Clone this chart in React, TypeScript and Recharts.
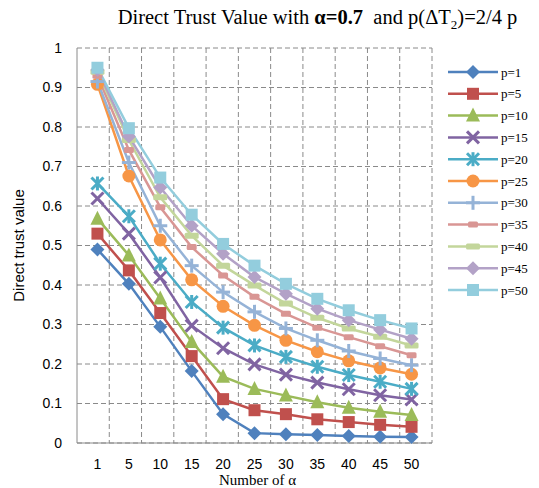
import React from "react";
import {
  LineChart,
  Line,
  XAxis,
  YAxis,
  CartesianGrid,
  Legend,
} from "recharts";

const categories = ["1", "5", "10", "15", "20", "25", "30", "35", "40", "45", "50"];
const yTicks = [0, 0.1, 0.2, 0.3, 0.4, 0.5, 0.6, 0.7, 0.8, 0.9, 1];

const p1 = [0.49, 0.403, 0.294, 0.182, 0.073, 0.025, 0.022, 0.02, 0.018, 0.016, 0.015];
const p5 = [0.53, 0.437, 0.329, 0.22, 0.111, 0.083, 0.073, 0.06, 0.053, 0.046, 0.041];
const p10 = [0.568, 0.475, 0.366, 0.256, 0.168, 0.137, 0.12, 0.103, 0.089, 0.079, 0.071];
const p15 = [0.619, 0.53, 0.419, 0.297, 0.24, 0.199, 0.173, 0.153, 0.136, 0.121, 0.11];
const p20 = [0.657, 0.574, 0.454, 0.357, 0.292, 0.247, 0.218, 0.193, 0.172, 0.155, 0.137];
const p25 = [0.908, 0.676, 0.514, 0.413, 0.346, 0.298, 0.26, 0.231, 0.208, 0.19, 0.174];
const p30 = [0.915, 0.71, 0.55, 0.449, 0.382, 0.332, 0.29, 0.26, 0.233, 0.214, 0.197];
const p35 = [0.93, 0.742, 0.597, 0.496, 0.424, 0.37, 0.327, 0.292, 0.268, 0.245, 0.222];
const p40 = [0.94, 0.767, 0.622, 0.525, 0.449, 0.399, 0.353, 0.317, 0.29, 0.269, 0.247];
const p45 = [0.945, 0.776, 0.647, 0.55, 0.479, 0.42, 0.378, 0.34, 0.311, 0.287, 0.264];
const p50 = [0.95, 0.797, 0.672, 0.578, 0.504, 0.449, 0.403, 0.365, 0.336, 0.311, 0.29];

const seriesNames = ["p=1", "p=5", "p=10", "p=15", "p=20", "p=25", "p=30", "p=35", "p=40", "p=45", "p=50"];
const seriesValues = [p1, p5, p10, p15, p20, p25, p30, p35, p40, p45, p50];

// excel 2010 palette + marker shapes
const series = [
  { color: "#4F81BD", shape: "diamond" },
  { color: "#C0504D", shape: "square" },
  { color: "#9BBB59", shape: "triangle" },
  { color: "#8064A2", shape: "x" },
  { color: "#4BACC6", shape: "star" },
  { color: "#F79646", shape: "circle" },
  { color: "#95B3D7", shape: "plus" },
  { color: "#D99694", shape: "dash" },
  { color: "#C3D69B", shape: "longdash" },
  { color: "#B3A2C7", shape: "diamond" },
  { color: "#93CDDD", shape: "square" },
].map((s, i) => ({ ...s, key: "s" + i, name: seriesNames[i], values: seriesValues[i] }));

const data = categories.map((c, i) => {
  const row: Record<string, any> = { n: c };
  series.forEach((s) => (row[s.key] = s.values[i]));
  return row;
});

const GRID = "#8a8a8a";
const SERIF = "'Liberation Serif', 'Times New Roman', serif";
const SANS = "'Liberation Sans', Arial, sans-serif";

function Marker({ cx, cy, color, shape }: { cx: number; cy: number; color: string; shape: string }) {
  switch (shape) {
    case "diamond":
      return <polygon points={`${cx},${cy - 7} ${cx + 7},${cy} ${cx},${cy + 7} ${cx - 7},${cy}`} fill={color} />;
    case "square":
      return <rect x={cx - 6} y={cy - 6} width={12} height={12} fill={color} />;
    case "triangle":
      return <polygon points={`${cx},${cy - 8} ${cx + 7},${cy + 6} ${cx - 7},${cy + 6}`} fill={color} />;
    case "x":
      return (
        <g stroke={color} strokeWidth={3}>
          <line x1={cx - 6} y1={cy - 6} x2={cx + 6} y2={cy + 6} />
          <line x1={cx - 6} y1={cy + 6} x2={cx + 6} y2={cy - 6} />
        </g>
      );
    case "star":
      return (
        <g stroke={color} strokeWidth={3}>
          <line x1={cx - 6} y1={cy - 6} x2={cx + 6} y2={cy + 6} />
          <line x1={cx - 6} y1={cy + 6} x2={cx + 6} y2={cy - 6} />
          <line x1={cx} y1={cy - 7} x2={cx} y2={cy + 7} />
        </g>
      );
    case "circle":
      return <circle cx={cx} cy={cy} r={6.5} fill={color} />;
    case "plus":
      return (
        <g stroke={color} strokeWidth={3}>
          <line x1={cx - 7} y1={cy} x2={cx + 7} y2={cy} />
          <line x1={cx} y1={cy - 7} x2={cx} y2={cy + 7} />
        </g>
      );
    case "dash":
      return <rect x={cx - 5} y={cy - 3} width={10} height={6} rx={1.5} fill={color} />;
    case "longdash":
      return <rect x={cx - 7} y={cy - 3} width={14} height={6} rx={1.5} fill={color} />;
    default:
      return null;
  }
}

function LegendBox() {
  return (
    <svg width={95} height={240}>
      {series.map((s, i) => {
        const y = 10 + i * 21.8;
        return (
          <g key={s.key}>
            <line x1={2} x2={52} y1={y} y2={y} stroke={s.color} strokeWidth={2.5} />
            <Marker cx={27} cy={y} color={s.color} shape={s.shape} />
            <text x={55} y={y + 4.5} fontSize={13} fontFamily={SERIF} fill="#000">
              {s.name}
            </text>
          </g>
        );
      })}
    </svg>
  );
}

export default function App() {
  return (
    <div style={{ position: "absolute", left: 0, top: 0, width: 539, height: 488, background: "#fff" }}>
      <div
        style={{
          position: "absolute",
          left: 0,
          top: 3,
          width: 539,
          paddingLeft: 96,
          boxSizing: "border-box",
          textAlign: "center",
          fontFamily: SERIF,
          fontSize: 20.5,
          lineHeight: "28px",
          color: "#000",
          whiteSpace: "nowrap",
        }}
      >
        Direct Trust Value with <b>α=0.7</b>&nbsp; and p(ΔT<sub style={{ fontSize: 13 }}>2</sub>)=2/4 p
      </div>
      <LineChart
        width={539}
        height={488}
        data={data}
        margin={{ top: 48, right: 12, bottom: 15, left: 27 }}
      >
        <CartesianGrid
          stroke={GRID}
          strokeDasharray="5 3"
          verticalCoordinatesGenerator={({ offset }: any) =>
            Array.from({ length: 11 }, (_, i) => offset.left + ((i + 1) * offset.width) / 11)
          }
        />
        <XAxis
          dataKey="n"
          height={30}
          padding={{ left: 20.45, right: 20.45 }}
          axisLine={{ stroke: GRID }}
          tickLine={false}
          tickSize={0}
          tickMargin={16}
          interval={0}
          tick={{ fill: "#000", fontSize: 14, fontFamily: SANS }}
          label={{
            content: ({ viewBox }: any) => (
              <text
                x={viewBox.x + viewBox.width / 2 + 3}
                y={485}
                textAnchor="middle"
                fontFamily={SERIF}
                fontSize={15}
                fill="#000"
              >
                Number of α
              </text>
            ),
          }}
        />
        <YAxis
          width={50}
          domain={[0, 1]}
          ticks={yTicks}
          interval={0}
          axisLine={{ stroke: GRID }}
          tickLine={false}
          tickSize={0}
          tickMargin={15}
          tick={{ fill: "#000", fontSize: 14, fontFamily: SANS }}
          label={{
            content: ({ viewBox }: any) => {
              const cy = viewBox.y + viewBox.height / 2;
              return (
                <text
                  x={18}
                  y={cy}
                  transform={`rotate(-90 18 ${cy})`}
                  textAnchor="middle"
                  dominantBaseline="central"
                  fontFamily={SANS}
                  fontSize={15}
                  fill="#000"
                >
                  Direct trust value
                </text>
              );
            },
          }}
        />
        <Legend
          layout="horizontal"
          verticalAlign="middle"
          align="right"
          wrapperStyle={{ left: 446, top: 62, width: 95, height: 240 }}
          content={() => <LegendBox />}
        />
        {series.map((s) => (
          <Line
            key={s.key}
            dataKey={s.key}
            name={s.name}
            stroke={s.color}
            strokeWidth={2.5}
            isAnimationActive={false}
            dot={(props: any) => (
              <Marker key={s.key + "-" + props.index} cx={props.cx} cy={props.cy} color={s.color} shape={s.shape} />
            )}
            activeDot={false}
          />
        ))}
      </LineChart>
    </div>
  );
}
